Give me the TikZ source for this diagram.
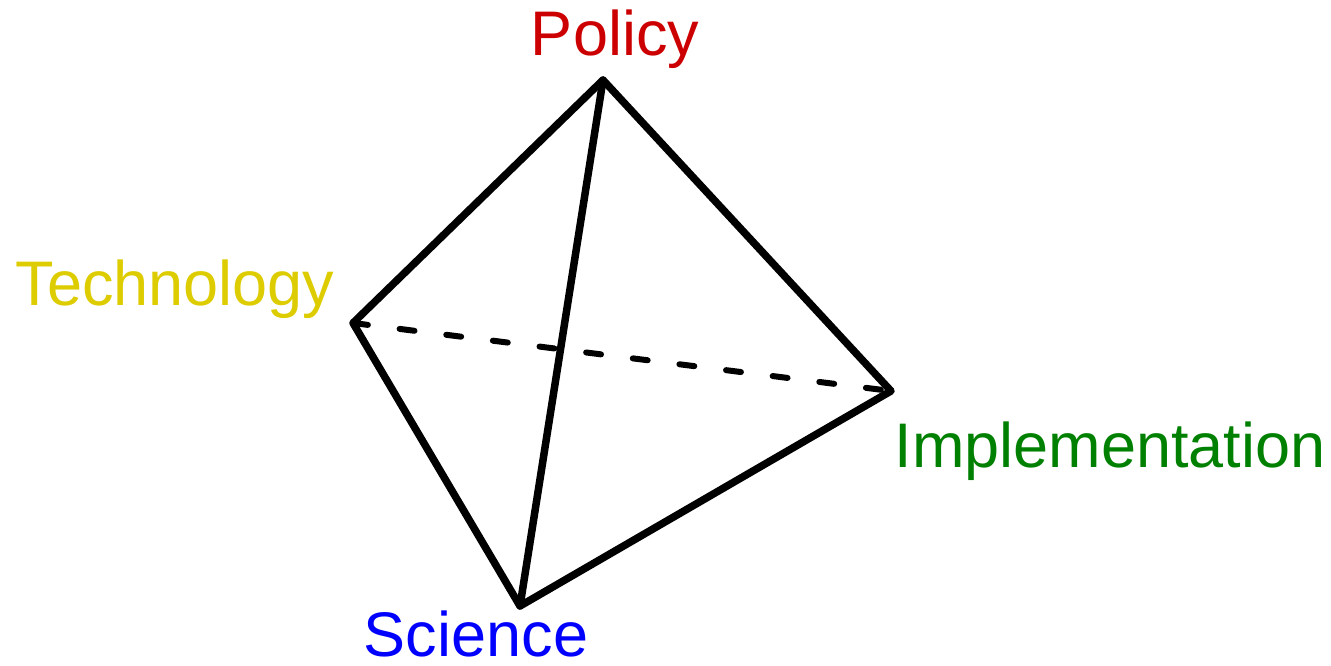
\documentclass[tikz,border=0pt]{standalone}
\usepackage{fontspec}
\setmainfont{Liberation Sans}
\definecolor{polred}{HTML}{CC0000}
\definecolor{techyellow}{HTML}{DDCC00}
\definecolor{implgreen}{HTML}{008000}
\definecolor{sciblue}{HTML}{0000FF}
\begin{document}
\begin{tikzpicture}[x=1pt,y=-1pt,
  edge/.style={line width=7.5pt, line join=round, line cap=round, black},
  hidden/.style={line width=6pt, line cap=round, dash pattern=on 15pt off 32pt, black},
  lbl/.style={anchor=base, inner sep=0pt, font=\fontsize{63}{72}\selectfont}]
\useasboundingbox (0,0) rectangle (1331,665);
\coordinate (P) at (603,80);
\coordinate (T) at (353,323);
\coordinate (I) at (891,391);
\coordinate (S) at (520,606);
\draw[hidden] (T) -- (I);
\draw[edge] (T) -- (P) -- (I) -- (S) -- cycle;
\draw[edge] (P) -- (S);
\node[lbl, text=polred] (lp) at (615,55) {Policy};
\node[lbl, text=techyellow] (lt) at (175,305) {Technology};
\node[lbl, text=implgreen] (li) at (1110,467) {Implementation};
\node[lbl, text=sciblue] (ls) at (476,656) {Science};
\end{tikzpicture}
\end{document}
